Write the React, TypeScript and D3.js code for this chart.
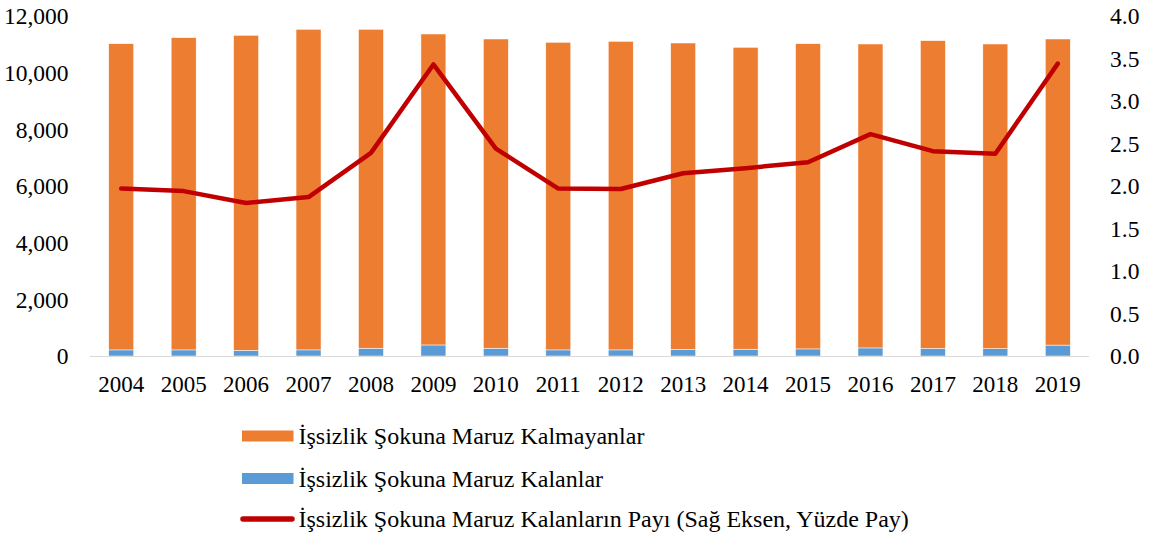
import React from "react";
import * as d3 from "d3";

const years = ["2004","2005","2006","2007","2008","2009","2010","2011","2012","2013","2014","2015","2016","2017","2018","2019"];
const totals = [11022, 11235, 11318, 11530, 11530, 11365, 11188, 11071, 11106, 11047, 10894, 11022, 11012, 11129, 11012, 11188];
const exposed = [215, 215, 200, 215, 275, 390, 275, 215, 215, 235, 240, 250, 285, 270, 260, 385];
const share = [1.97, 1.94, 1.80, 1.87, 2.39, 3.43, 2.44, 1.97, 1.965, 2.15, 2.21, 2.28, 2.61, 2.41, 2.38, 3.44];
const leftTicks = [0, 2000, 4000, 6000, 8000, 10000, 12000];
const rightTicks = [0, 0.5, 1, 1.5, 2, 2.5, 3, 3.5, 4];
const legendLabels = [
  "İşsizlik Şokuna Maruz Kalmayanlar",
  "İşsizlik Şokuna Maruz Kalanlar",
  "İşsizlik Şokuna Maruz Kalanların Payı (Sağ Eksen, Yüzde Pay)",
];

const W = 1151, H = 538;
const ORANGE = "#ED7D31", BLUE = "#5B9BD5", RED = "#C00000";
const FONT = '"Liberation Serif", "Times New Roman", Times, serif';

export default function App() {
  const x = d3.scaleBand().domain(years).range([90, 1089]).paddingInner(0.6).paddingOuter(0.3);
  const yL = d3.scaleLinear().domain([0, 12000]).range([356, 16]);
  const yR = d3.scaleLinear().domain([0, 4]).range([356, 16]);
  const fmt = d3.format(",");
  const line = d3.line<number>()
    .x((_, i) => (x(years[i]) as number) + x.bandwidth() / 2)
    .y((d) => yR(d));
  const legendY = [436, 478.5, 519];

  return (
    <svg width={W} height={H} style={{ position: "absolute", left: 0, top: 0, background: "#fff", fontFamily: FONT }}>
      {years.map((yr, i) => {
        const bx = x(yr) as number;
        const bw = x.bandwidth();
        return (
          <g key={yr}>
            <rect x={bx} y={yL(exposed[i])} width={bw} height={yL(0) - yL(exposed[i])} fill={BLUE} stroke="#fff" strokeWidth={0.5} />
            <rect x={bx} y={yL(totals[i])} width={bw} height={yL(exposed[i]) - yL(totals[i])} fill={ORANGE} stroke="#fff" strokeWidth={0.5} />
          </g>
        );
      })}
      <line x1={90} x2={1089} y1={356.5} y2={356.5} stroke="#D9D9D9" strokeWidth={1} />
      <path d={line(share) || ""} fill="none" stroke={RED} strokeWidth={4.5} strokeLinejoin="round" strokeLinecap="round" />
      {leftTicks.map((t) => (
        <text key={t} x={68.5} y={yL(t)} dy="0.35em" textAnchor="end" fontSize={23.5} fill="#000">{fmt(t)}</text>
      ))}
      {rightTicks.map((t) => (
        <text key={t} x={1110} y={yR(t)} dy="0.35em" textAnchor="start" fontSize={23.5} fill="#000">{t.toFixed(1)}</text>
      ))}
      {years.map((yr) => (
        <text key={yr} x={(x(yr) as number) + x.bandwidth() / 2} y={384} dy="0.35em" textAnchor="middle" fontSize={23} fill="#000">{yr}</text>
      ))}
      {legendLabels.map((lab, i) => {
        const cy = legendY[i];
        return (
          <g key={lab}>
            {i < 2 ? (
              <rect x={242} y={cy - 5.5} width={51.5} height={11} fill={i === 0 ? ORANGE : BLUE} />
            ) : (
              <line x1={243} x2={292} y1={cy} y2={cy} stroke={RED} strokeWidth={5.5} strokeLinecap="round" />
            )}
            <text x={298.5} y={cy} dy="0.35em" fontSize={24} fill="#000">{lab}</text>
          </g>
        );
      })}
    </svg>
  );
}
